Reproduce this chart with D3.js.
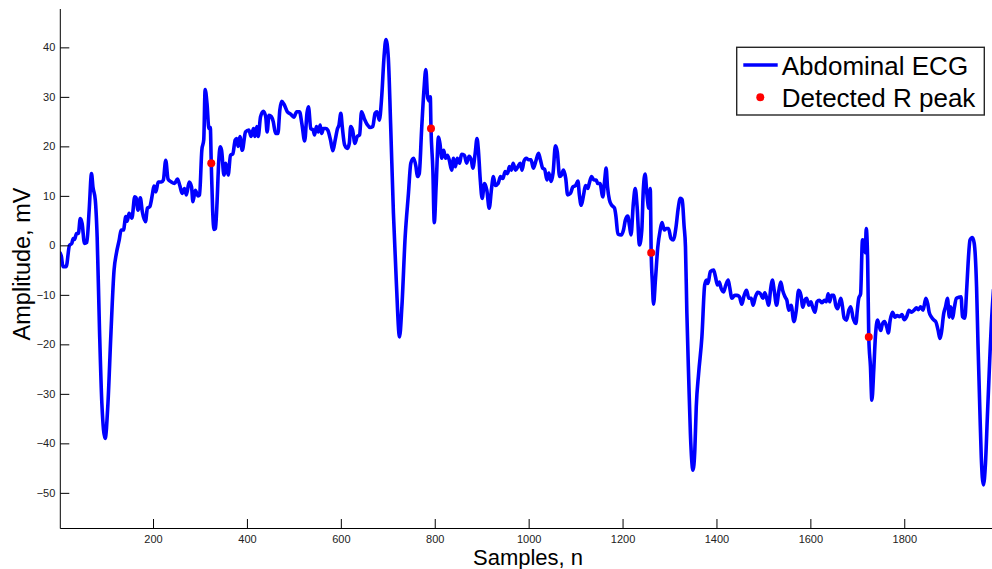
<!DOCTYPE html>
<html>
<head>
<meta charset="utf-8">
<script src="https://cdn.jsdelivr.net/npm/d3@7/dist/d3.min.js"></script>
<style>
  html, body { margin: 0; padding: 0; background: #fff; }
  svg { display: block; }
  text { font-family: "Liberation Sans", Arial, Helvetica, sans-serif; }
</style>
</head>
<body>
<svg id="chart" width="992" height="569"></svg>
<script>
// ---- Data ----
const ecgSamples = [
  2,5,8,15,22,27,30,33,37,41,45,49,54,59,64,69,72,77,81,86,91,98,104,110,117,122,128,132,137,142,145,149,155,161,164,168,173,177,184,188,193,199,202,206,211,218,222,227,232,239,246,252,257,262,267,271,277,282,285,290,296,299,304,308,311,315,319,322,324,327,330,
  333,336,340,343,346,351,355,360,365,370,375,378,381,385,390,397,404,409,414,417,421,424,429,435,440,443,447,452,456,461,466,470,474,479,486,493,500,506,512,517,523,528,531,536,541,544,548,552,556,559,563,568,572,578,583,588,593,596,600,603,608,614,618,621,625,630,635,640,644,650,657,662,
  668,673,677,682,687,692,696,701,706,712,718,725,730,737,744,749,755,760,763,767,772,777,781,785,789,790.5,792,796,799,803,808,811,815,819,823,827,831,836,840,844,848,853,857,863,868,873,878,881,886,890,893,897,901,906,911,916,921,925,929,935,940,945,950,955,959,963,967,972,977,982,986,990,995,
  1000,1005,1010,1015,1021,1025,1030,1034,1039,1043,1048,1052,1057,1061,1066,1070,1074,1079,1083,1089,1094,1100,1105,1108,1112,1117,1121,1126,1129,1134,1139,1144,1147,1152,1158,1162,1165,1168,1172,1177,1183,1186,1190,1197,1202,1206,1211,1215,1218,1223,1227,1231,1236,1241,1244,1248,1252,1256,1259,1261,1263.5,1266,1270,1275,1280,1284,1289,1293,1298,1303,1308,1314,1318,1323,1327,1331,
  1334,1337,1341,1344.5,1350,1354,1357,1362,1369,1375,1379,1382,1387,1394,1398,1402,1406,1410,1415,1420,1425,1428,1433,1439,1444,1449,1454,1459,1464,1469,1474,1478,1483,1488,1494,1499,1503,1508,1511,1516,1519,1523,1528,1533,1537,1541,1546,1550,1554,1559,1565,1570,1575,1580,1584,1588,1592,1597,1601,1605,1610,1614,1619,1625,1630,1634,1638,1641,1645,1650,1654,1658,1662,1665,
  1668,1672,1677,1682,1686,1691,1697,1700,1703,1707,1711,1715,1717,1719,1722,1724.4,1728,1731,1735,1738.5,1743,1746,1750,1753,1758,1763,1766,1770,1775,1780,1785,1790,1795,1800,1805,1810,1815,1821,1826,1830,1835,1840,1846,1850,1853,1858,1863,1867,1872,1876,1879,1884,1888,1892,1896,1899,1903,1906.5,1911,1916,1921,1924,1929,1932.5,1936,1940,1945,1949,1954,1957,1961,1964,1968.5,1973,1977,1982,1985.5,1990
];
const ecgValues = [
  -1.5,-2.3,-4.3,-4.3,0,0.4,1.4,1.2,2.4,2.4,5.4,4.4,0.4,0.6,7.1,14.5,11.8,9.2,1.7,-17.1,-31.9,-39,-31.9,-18.5,-5,-1.6,1.1,3.1,3.1,5.8,4.9,6.5,5.5,9.8,9.6,7.1,9.6,6.9,4.8,7.5,7.8,10.5,12,10.8,12.8,12.8,13.2,17.2,13.4,12.8,12.5,13.4,12.1,10.5,11.5,10.2,12.8,11.8,8.8,11.1,10,10.2,19.3,21.3,31.5,28.6,23.6,23.8,16.6,7,3.2,
  3.4,8,17,19.9,19.2,14.2,16.6,14.2,18.2,18.5,21.3,21.6,20,22,19.2,22.9,23.3,22,23.6,22,24,22,26,27.1,26,22.9,26.3,26,25,22.6,22.6,27.3,29.1,28.5,27,26.5,25.9,27,27,24.6,21.1,26.8,28,23.6,23.3,22.3,24,22.9,24.3,22.6,23.6,23.6,23.3,21.3,19.1,21.3,23.6,24.3,26.7,24,20.3,19.6,20.6,24,23.3,20.6,22,22.3,27,25.6,24.3,23.8,
  24,26.7,27,25.3,30,38.1,41.6,38.1,24.6,6.5,-7,-18.5,-12.4,1.7,10.5,16.6,17.6,15.9,13.9,14.5,23.3,31.4,35.5,29.8,29.1,30,23.6,15.2,4.6,12.1,21.9,20.6,17.6,19.2,17.6,18.2,17.2,15.2,17.6,15.9,17.6,16.6,18.4,18.2,16.6,18,17.2,15.6,18.5,21.6,19.2,13.2,9.5,12.5,11.1,7.5,11.5,13.9,12.1,12.5,13.9,13.5,14.9,14.5,15.9,15.2,16.6,15.2,15.9,16.6,15.2,17,17.6,
  17.3,17.3,15.6,16.9,18.6,17.3,15.6,15.4,13.2,14.6,12.9,14.6,20.1,18.9,13.9,14.2,15.2,13.5,10.2,10.5,11.8,12.1,13,10.2,8.1,10.2,12.1,11.5,12.5,13.9,13.2,13.2,12.5,12.5,9.8,13.2,15.6,11.8,9.2,8.1,7.5,5.8,2.3,2.1,3.1,5.1,5.9,3.8,2.1,8.5,11.5,7.8,0.1,3.1,10.8,14.4,10.2,7.5,11.5,-1.5,-7.5,-11.9,-7,-0.4,3,4.6,3.1,3.4,3.4,1.4,1.1,3.8,7.1,9.5,9.2,4,
  -0.3,-13.7,-27.2,-38,-45.4,-41.2,-32.6,-25.9,-18.5,-8,-7,-7.7,-5.3,-5,-6.4,-8,-7.4,-8.7,-9.4,-8,-7,-8.4,-10.7,-10.1,-10.1,-10.4,-11.9,-10.1,-9.1,-10.7,-10.7,-12.1,-10.4,-9.5,-9.8,-10.7,-9.6,-11.1,-12.1,-8.4,-7,-9.1,-12.1,-9.1,-7.4,-9.1,-10.4,-11.1,-13.1,-12.1,-15.4,-13.1,-9.1,-10.1,-12.5,-11.1,-10.7,-12.1,-11.4,-12.5,-13.5,-11.4,-11.1,-11.6,-11.1,-11.4,-9.8,-11.4,-10.1,-10.1,-12.1,-12.8,-11.5,-10.7,
  -12.1,-14.7,-15.1,-13.1,-12.4,-14.7,-15.8,-13.1,-10.7,-9.8,1.1,0.4,-1.5,3.4,-3,-18.5,-24.5,-31.3,-25.2,-18.5,-15.1,-16,-17.2,-16,-15.4,-16.6,-17.7,-15.1,-13.5,-14.5,-14.2,-14.4,-14,-15,-14.4,-13.1,-13.5,-13.1,-12.6,-13,-12.4,-13.1,-10.7,-11.8,-13.5,-14.5,-15.1,-15.4,-17.1,-18.8,-17.7,-13.8,-12.4,-10.7,-14.5,-12.4,-14.7,-12.7,-10.7,-10.5,-10.4,-14.4,-14.7,-9.7,-3.6,1.1,1.6,0.4,-8.4,-19.8,-33.3,-42.7,-48.4,-44,-34.6,-23.2,-15.8,-9
];
const peakSamples = [324, 792, 1261, 1724.4];
const peakValues  = [16.6, 23.6, -1.5, -18.5];
const xTickValues = [200, 400, 600, 800, 1000, 1200, 1400, 1600, 1800];
const yTickValues = [-50, -40, -30, -20, -10, 0, 10, 20, 30, 40];
const seriesNames = ["Abdominal ECG", "Detected R peak"];
const xLabel = "Samples, n";
const yLabel = "Amplitude, mV";

(function () {
  // ---- Layout ----
  const W = 992;
  const pL = 60.3, pR = 992.3, pT = 9, pB = 528;
  const svg = d3.select("#chart");

  const x = d3.scaleLinear().domain([2.5, 1987.5]).range([pL, pR]);
  const y = d3.scaleLinear().domain([-57.1, 47.75]).range([pB, pT]);

  const ecg = ecgSamples.map((s, i) => ({ s, v: ecgValues[i] }));
  const peaks = peakSamples.map((s, i) => ({ s, v: peakValues[i] }));

  svg.append("defs").append("clipPath").attr("id", "plotClip")
    .append("rect").attr("x", pL).attr("y", pT).attr("width", pR - pL).attr("height", pB - pT);

  const line = d3.line().x(d => x(d.s)).y(d => y(d.v)).curve(d3.curveMonotoneX);
  svg.append("path")
    .datum(ecg)
    .attr("clip-path", "url(#plotClip)")
    .attr("d", line)
    .attr("fill", "none")
    .attr("stroke", "#0000ff")
    .attr("stroke-width", 3.6)
    .attr("stroke-linejoin", "round")
    .attr("stroke-linecap", "round");

  svg.append("g").selectAll("circle").data(peaks).join("circle")
    .attr("cx", d => x(d.s)).attr("cy", d => y(d.v)).attr("r", 4)
    .attr("fill", "#ff0000");

  const fontFam = "'Liberation Sans', Arial, Helvetica, sans-serif";

  const xAxis = d3.axisBottom(x).tickValues(xTickValues).tickSizeInner(-9).tickSizeOuter(0).tickPadding(7)
    .tickFormat(d3.format("d"));
  const gx = svg.append("g").attr("transform", `translate(0,${pB})`).call(xAxis);
  gx.select(".domain").attr("d", `M${pL},0.5H${W}`).attr("stroke", "#000");
  gx.selectAll(".tick line").attr("stroke", "#000");
  gx.selectAll(".tick text").attr("font-size", 11).attr("fill", "#222").attr("font-family", fontFam);

  const yAxis = d3.axisLeft(y).tickValues(yTickValues).tickSizeInner(-9).tickSizeOuter(0).tickPadding(5)
    .tickFormat(d => d < 0 ? "\u2212" + Math.abs(d) : String(d));
  const gy = svg.append("g").attr("transform", `translate(${pL},0)`).call(yAxis);
  gy.select(".domain").attr("d", `M0,${pT}V${pB + 0.5}`).attr("stroke", "#000");
  gy.selectAll(".tick line").attr("stroke", "#000");
  gy.selectAll(".tick text").attr("font-size", 11).attr("fill", "#222").attr("font-family", fontFam);

  svg.append("text").attr("x", 528).attr("y", 565).attr("text-anchor", "middle")
    .attr("font-size", 22).attr("fill", "#000").text(xLabel);
  svg.append("text").attr("transform", "translate(29.5,264) rotate(-90)").attr("text-anchor", "middle")
    .attr("font-size", 23.5).attr("fill", "#000").text(yLabel);

  const lg = svg.append("g");
  lg.append("rect").attr("x", 736.7).attr("y", 47.3).attr("width", 247.6).attr("height", 67.7)
    .attr("fill", "#fff").attr("stroke", "#262626").attr("stroke-width", 1.4);
  lg.append("line").attr("x1", 743.3).attr("x2", 777.7).attr("y1", 65).attr("y2", 65)
    .attr("stroke", "#0000ff").attr("stroke-width", 3.6);
  lg.append("circle").attr("cx", 760.3).attr("cy", 97.3).attr("r", 4).attr("fill", "#ff0000");
  lg.append("text").attr("x", 781.7).attr("y", 74.5).attr("font-size", 26).attr("fill", "#000").text(seriesNames[0]);
  lg.append("text").attr("x", 781.7).attr("y", 107).attr("font-size", 26).attr("fill", "#000").text(seriesNames[1]);
})();
</script>
</body>
</html>
